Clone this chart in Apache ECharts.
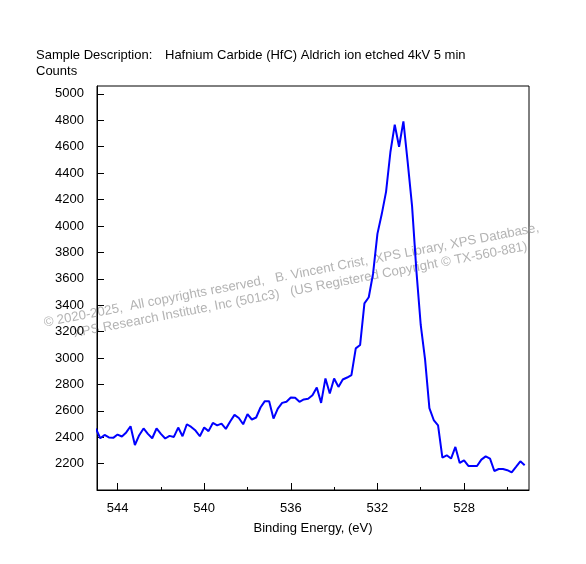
<!DOCTYPE html>
<html><head><meta charset="utf-8">
<script src="https://cdn.jsdelivr.net/npm/echarts@6/dist/echarts.min.js"></script>
<style>html,body{margin:0;padding:0;background:#fff}#c{width:586px;height:564px}</style>
</head><body><div id="c"></div>
<script>
// Binding energy grid: 545.0 eV downwards in 0.2 eV steps
const energyStart = 545.0;
const energyStep = 0.2;
const counts = [
  2465, 2392, 2417, 2398, 2395, 2420, 2405, 2436, 2483, 2341,
  2415, 2466, 2425, 2392, 2466, 2425, 2390, 2410, 2402, 2473,
  2407, 2498, 2478, 2450, 2407, 2473, 2446, 2508, 2490, 2503,
  2463, 2519, 2569, 2545, 2498, 2574, 2534, 2549, 2625, 2673,
  2673, 2541, 2617, 2660, 2668, 2701, 2698, 2668, 2686, 2691,
  2718, 2777, 2660, 2845, 2731, 2845, 2781, 2837, 2852, 2870,
  3073, 3098, 3414, 3460, 3640, 3940, 4090, 4260, 4560, 4767,
  4600, 4792, 4480, 4150, 3660, 3250, 2990, 2620, 2530, 2490,
  2245, 2263, 2238, 2326, 2205, 2225, 2182, 2182, 2182, 2230,
  2255, 2238, 2144, 2159, 2159, 2150, 2134, 2175, 2217, 2187
];
const energies = counts.map((_, i) => +(energyStart - energyStep * i).toFixed(2));

const xMajorTicks = [544, 540, 536, 532, 528];
const xMinorTicks = [542, 538, 534, 530, 526];
const yTicks = [2200, 2400, 2600, 2800, 3000, 3200, 3400, 3600, 3800, 4000, 4200, 4400, 4600, 4800, 5000];

const titleLabel = 'Sample Description:';
const titleText = 'Hafnium Carbide (HfC) Aldrich ion etched 4kV 5 min';
const yTitle = 'Counts';
const xTitle = 'Binding Energy, (eV)';
const watermark1 = '\u00A9 2020-2025,  All copyrights reserved,   B. Vincent Crist,  XPS Library, XPS Database,';
const watermark2 = 'XPS Research Institute, Inc (501c3)   (US Registered Copyright \u00A9 TX-560-881)';

const FONT = '"Liberation Sans", Arial, sans-serif';
const chart = echarts.init(document.getElementById('c'), null, {renderer: 'canvas'});
const seriesData = energies.map((e, i) => [e, counts[i]]);
const plain = v => String(v);

chart.setOption({
  animation: false,
  backgroundColor: '#fff',
  grid: {left: 97, top: 86, width: 432, height: 404, show: true, borderColor: '#000', borderWidth: 1, backgroundColor: 'transparent'},
  xAxis: [{
    type: 'value', min: 525, max: 544.95, inverse: true, position: 'bottom',
    axisLine: {show: true, lineStyle: {color: '#000', width: 1}},
    axisTick: {show: true, inside: true, length: 7, lineStyle: {color: '#000'}, customValues: xMajorTicks},
    axisLabel: {show: true, color: '#000', fontSize: 13, fontFamily: FONT, margin: 12, customValues: xMajorTicks, formatter: plain},
    splitLine: {show: false},
    name: xTitle, nameLocation: 'middle', nameGap: 32,
    nameTextStyle: {color: '#000', fontSize: 13, fontFamily: FONT}
  }, {
    type: 'value', min: 525, max: 544.95, inverse: true, position: 'bottom',
    axisLine: {show: false},
    axisTick: {show: true, inside: true, length: 3, lineStyle: {color: '#000'}, customValues: xMinorTicks},
    axisLabel: {show: false},
    splitLine: {show: false}
  }],
  yAxis: {
    type: 'value', min: 2000, max: 5060,
    axisLine: {show: true, lineStyle: {color: '#000', width: 1}},
    axisTick: {show: true, inside: true, length: 7, lineStyle: {color: '#000'}, customValues: yTicks},
    axisLabel: {show: true, color: '#000', fontSize: 13, fontFamily: FONT, margin: 13, customValues: yTicks, formatter: plain},
    splitLine: {show: false}
  },
  graphic: [
    {type: 'text', x: 36, y: 55, style: {text: titleLabel, fill: '#000', font: '13px ' + FONT, verticalAlign: 'middle'}},
    {type: 'text', x: 165, y: 55, style: {text: titleText, fill: '#000', font: '13px ' + FONT, verticalAlign: 'middle'}},
    {type: 'text', x: 36, y: 71, style: {text: yTitle, fill: '#000', font: '13px ' + FONT, verticalAlign: 'middle'}},
    {type: 'group', x: 44, y: 323, rotation: 0.19, z: 100, children: [
      {type: 'text', x: 0, y: 0, style: {text: watermark1, fill: 'rgba(150,150,150,0.72)', font: '13.2px ' + FONT, verticalAlign: 'middle'}},
      {type: 'text', x: 27, y: 16, style: {text: watermark2, fill: 'rgba(150,150,150,0.72)', font: '13.2px ' + FONT, verticalAlign: 'middle'}}
    ]}
  ],
  series: [{
    type: 'line', data: seriesData, showSymbol: false, symbol: 'none',
    lineStyle: {color: '#0000ff', width: 2}, clip: true, z: 3
  }]
});
</script></body></html>
